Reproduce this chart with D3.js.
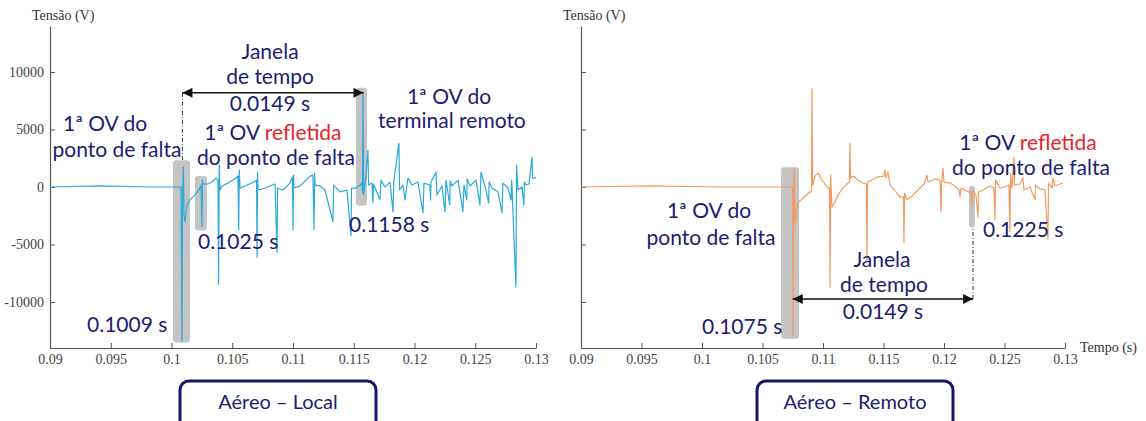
<!DOCTYPE html>
<html lang="pt">
<head>
<meta charset="utf-8" />
<title>Aéreo - Local / Remoto</title>
<script src="https://cdn.jsdelivr.net/npm/d3@7/dist/d3.min.js"></script>
<style>
  body { margin: 0; background: #fff; }
  svg { display: block; }
</style>
</head>
<body>
<script>
// tick values and labels (shared by both panels)
var xTicks = [0.09, 0.095, 0.1, 0.105, 0.11, 0.115, 0.12, 0.125, 0.13];
var xTickLabels = ["0.09", "0.095", "0.1", "0.105", "0.11", "0.115", "0.12", "0.125", "0.13"];
var yTicks = [-10000, -5000, 0, 5000, 10000];
var yTickLabels = ["-10000", "-5000", "0", "5000", "10000"];

// [tempo (s), tensao (V)]
var localSignal = [
  [0.09000, 0], [0.09412, 90], [0.09823, 0], [0.10078, 0], [0.10086, -13450], [0.10091, -260],
  [0.10097, 1720], [0.10103, -2410], [0.10111, -3020], [0.10128, -1550], [0.10152, -1120],
  [0.10193, -690], [0.10226, -260], [0.10243, 170], [0.10251, -3450], [0.10255, 600],
  [0.10259, 260], [0.10300, 260], [0.10333, 430], [0.10366, 780], [0.10383, 600],
  [0.10387, -8450], [0.10393, 1900], [0.10399, -260], [0.10416, 90], [0.10465, 340],
  [0.10531, 780], [0.10547, 950], [0.10553, -3710], [0.10558, 1470], [0.10564, -90],
  [0.10605, 90], [0.10679, 430], [0.10700, 600], [0.10704, -6120], [0.10708, 1290],
  [0.10712, -260], [0.10769, -90], [0.10852, 260], [0.10868, -5690], [0.10873, -90],
  [0.10918, -260], [0.10975, 340], [0.10996, 860], [0.11000, -3710], [0.11005, 1030],
  [0.11008, -90], [0.11058, 90], [0.11140, 950], [0.11164, 1030], [0.11173, -3710],
  [0.11178, 1210], [0.11181, 170], [0.11222, 90], [0.11263, -260], [0.11329, -3020],
  [0.11334, 170], [0.11387, -430], [0.11444, -260], [0.11477, -4220], [0.11482, -90],
  [0.11518, -90], [0.11551, 170], [0.11568, 340], [0.11572, -520], [0.11576, 8100],
  [0.11581, -690], [0.11601, 1030], [0.11617, 3190], [0.11622, 170], [0.11650, 340],
  [0.11658, -1380], [0.11662, 260],
  [0.11683, -260], [0.11716, -1120], [0.11724, 600], [0.11757, 0], [0.11798, 430],
  [0.11823, -2160], [0.11831, 600], [0.11872, 3790], [0.11877, -260], [0.11905, 170],
  [0.11922, -1120], [0.11946, 780], [0.11979, 170], [0.12029, 430], [0.12070, -2240],
  [0.12078, 340], [0.12127, 170], [0.12132, -1120], [0.12136, 430],
  [0.12177, 1290], [0.12185, -690], [0.12226, 90],
  [0.12251, -2160], [0.12259, 600], [0.12290, -1550], [0.12294, 520],
  [0.12308, 90], [0.12358, 600], [0.12399, -2160],
  [0.12407, 170], [0.12430, -1120], [0.12434, 690],
  [0.12457, 90], [0.12506, 600], [0.12539, -1550], [0.12547, 1290],
  [0.12588, -260], [0.12610, -1380], [0.12614, 430],
  [0.12638, -90], [0.12687, -430], [0.12720, -2240], [0.12728, 340],
  [0.12769, -90], [0.12795, -1120], [0.12799, 600],
  [0.12802, 170], [0.12835, -8710], [0.12840, 1900], [0.12852, -260],
  [0.12885, 0], [0.12900, -1550], [0.12904, 430],
  [0.12917, 170], [0.12942, 260], [0.12967, 2590], [0.12972, 780],
  [0.12992, 780], [0.13000, 860]
];

var remoteSignal = [
  [0.09000, 0], [0.09570, 90], [0.10149, 0], [0.10744, 0], [0.10748, 0], [0.10752, -12930],
  [0.10757, -260], [0.10762, 1640], [0.10769, -3280], [0.10785, -1980], [0.10793, -1380],
  [0.10835, -950], [0.10892, -430], [0.10905, -430], [0.10909, 8530], [0.10915, 170],
  [0.10934, 950], [0.10959, 1210], [0.10992, 600], [0.11041, -90], [0.11054, -90],
  [0.11058, -8710], [0.11063, 1030], [0.11074, -1720], [0.11091, -1470], [0.11124, -690],
  [0.11165, -90], [0.11207, 340], [0.11219, 430], [0.11223, 3790], [0.11228, 780],
  [0.11248, 950], [0.11289, 600], [0.11330, 340], [0.11359, 260], [0.11364, -6470],
  [0.11369, 430], [0.11405, 600], [0.11446, 860], [0.11504, 950], [0.11512, 1470],
  [0.11520, 780], [0.11537, 1290], [0.11554, 170], [0.11603, -430], [0.11636, -860],
  [0.11665, -860], [0.11669, -4830], [0.11674, -520], [0.11694, -1120], [0.11735, -780],
  [0.11785, -260], [0.11835, 260], [0.11859, 1030], [0.11868, 430], [0.11926, 690],
  [0.11967, 600], [0.11975, -2160], [0.11980, 340], [0.11992, 1640], [0.12000, 430],
  [0.12049, 340], [0.12091, 90], [0.12124, -260], [0.12132, -860], [0.12140, -90],
  [0.12173, -260], [0.12206, -430], [0.12227, -520], [0.12231, -1720], [0.12236, -260],
  [0.12264, -690], [0.12281, -2590], [0.12286, -430], [0.12322, -260], [0.12380, 90],
  [0.12413, -90], [0.12421, -2840], [0.12426, 600], [0.12463, -90], [0.12504, 0],
  [0.12537, 170], [0.12545, -3880], [0.12550, 1210], [0.12562, -90], [0.12578, 2590],
  [0.12583, 170], [0.12627, 260], [0.12652, 780], [0.12661, -260], [0.12710, 0],
  [0.12752, -1120], [0.12757, 170], [0.12793, -170], [0.12834, -260], [0.12859, -4570],
  [0.12864, 340], [0.12893, -90], [0.12901, 780], [0.12917, 90], [0.12959, 260],
  [0.12983, 340]
];

// highlighted windows [t0, t1, vTop, vBottom]
var localBoxes = [[0.10012, 0.10152, 2330, -13530], [0.10193, 0.10292, 950, -3790], [0.11518, 0.11609, 8620, -1640]];
var remoteBoxes = [[0.10653, 0.10802, 1720, -13190], [0.12206, 0.12256, 90, -3530]];

// time window arrows [t0, t1, v, tDashed, vDashedEnd]
var localWindow = [0.1009, 0.1158, 8190, 0.1009, 2330];
var remoteWindow = [0.1075, 0.1224, -9740, 0.1224, -3530];

// annotation text: [t, v, anchor, parts]
var localNotes = [
  [0.10811, 11120, "middle", [["Janela"]]],
  [0.10811, 8960, "middle", [["de tempo"]]],
  [0.10811, 6640, "middle", [["0.0149 s"]]],
  [0.09453, 4910, "middle", [["1ª OV do"]]],
  [0.09551, 2590, "middle", [["ponto de falta"]]],
  [0.10835, 4050, "middle", [["1ª OV "], ["refletida", "red"]]],
  [0.10860, 1900, "middle", [["do ponto de falta"]]],
  [0.12284, 7240, "middle", [["1ª OV do"]]],
  [0.12308, 5090, "middle", [["terminal remoto"]]],
  [0.10218, -5430, "start", [["0.1025 s"]]],
  [0.11461, -3880, "start", [["0.1158 s"]]],
  [0.09305, -12590, "start", [["0.1009 s"]]]
];
var remoteNotes = [
  [0.10058, -2670, "middle", [["1ª OV do"]]],
  [0.10074, -5000, "middle", [["ponto de falta"]]],
  [0.10000, -12760, "start", [["0.1075 s"]]],
  [0.11487, -6980, "middle", [["Janela"]]],
  [0.11504, -9140, "middle", [["de tempo"]]],
  [0.11496, -11460, "middle", [["0.0149 s"]]],
  [0.12694, 3190, "middle", [["1ª OV "], ["refletida", "red"]]],
  [0.12719, 1030, "middle", [["do ponto de falta"]]],
  [0.12322, -4310, "start", [["0.1225 s"]]]
];

var panels = [
  { title: "Aéreo – Local", data: localSignal, boxes: localBoxes, win: localWindow, notes: localNotes,
    color: "#2ca9d8", left: 50, right: 536, yLabels: true, labelX: 32, titleBox: [180, 196] },
  { title: "Aéreo – Remoto", data: remoteSignal, boxes: remoteBoxes, win: remoteWindow, notes: remoteNotes,
    color: "#f39a62", left: 581, right: 1065, yLabels: false, labelX: 563, titleBox: [757, 196] }
];

var W = 1146, H = 421, plotTop = 26, plotBottom = 348;
var navy = "#202070", red = "#e8242c", axisColor = "#555";

var svg = d3.select("body").append("svg")
  .attr("width", W)
  .attr("height", H);

var defs = svg.append("defs");
defs.append("marker")
  .attr("id", "arrow")
  .attr("viewBox", "0 0 10 10")
  .attr("refX", 10).attr("refY", 5)
  .attr("markerWidth", 15).attr("markerHeight", 10)
  .attr("markerUnits", "userSpaceOnUse")
  .attr("orient", "auto-start-reverse")
  .append("path")
  .attr("d", "M0,0 L10,5 L0,10 Z")
  .attr("fill", "#111");

panels.forEach(function (p) {
  var x = d3.scaleLinear().domain([0.09, 0.13]).range([p.left, p.right]);
  var y = d3.scaleLinear().domain([-14000, 14000]).range([plotBottom, plotTop]);
  var g = svg.append("g");

  // grey highlight windows
  g.selectAll("rect.hl")
    .data(p.boxes)
    .enter()
    .append("rect")
    .attr("class", "hl")
    .attr("x", function (d) { return x(d[0]); })
    .attr("y", function (d) { return y(d[2]); })
    .attr("width", function (d) { return x(d[1]) - x(d[0]); })
    .attr("height", function (d) { return y(d[3]) - y(d[2]); })
    .attr("rx", 3)
    .attr("fill", "#c4c4c4");

  // axes
  var xAxis = d3.axisBottom(x)
    .tickValues(xTicks)
    .tickFormat(function (d, i) { return xTickLabels[i]; })
    .tickSizeInner(-5).tickSizeOuter(0).tickPadding(6);
  var yAxis = d3.axisLeft(y)
    .tickValues(yTicks)
    .tickFormat(function (d, i) { return p.yLabels ? yTickLabels[i] : ""; })
    .tickSizeInner(-5).tickSizeOuter(0).tickPadding(6);

  var gx = g.append("g").attr("transform", "translate(0," + plotBottom + ")").call(xAxis);
  var gy = g.append("g").attr("transform", "translate(" + p.left + ",0)").call(yAxis);
  [gx, gy].forEach(function (a) {
    a.select(".domain").attr("stroke", axisColor).attr("stroke-width", 1.2);
    a.selectAll(".tick line").attr("stroke", axisColor);
    a.selectAll(".tick text")
      .attr("fill", "#444")
      .style("font-family", "'Liberation Serif', serif")
      .style("font-size", "14px");
  });

  g.append("text")
    .attr("x", p.labelX).attr("y", 20)
    .attr("fill", "#333")
    .style("font-family", "'Liberation Serif', serif")
    .style("font-size", "14px")
    .text("Tensão (V)");

  // signal
  var line = d3.line()
    .x(function (d) { return x(d[0]); })
    .y(function (d) { return y(d[1]); });
  g.append("path")
    .datum(p.data)
    .attr("d", line)
    .attr("fill", "none")
    .attr("stroke", p.color)
    .attr("stroke-width", 1.2)
    .attr("stroke-linejoin", "round");

  // time window arrow + dash-dot guide
  var w = p.win;
  g.append("line")
    .attr("x1", x(w[3])).attr("x2", x(w[3]))
    .attr("y1", y(w[2])).attr("y2", y(w[4]))
    .attr("stroke", "#333")
    .attr("stroke-width", 1)
    .attr("stroke-dasharray", "4,2,1,2");
  g.append("line")
    .attr("x1", x(w[0])).attr("x2", x(w[1]))
    .attr("y1", y(w[2])).attr("y2", y(w[2]))
    .attr("stroke", "#111")
    .attr("stroke-width", 1.6)
    .attr("marker-start", "url(#arrow)")
    .attr("marker-end", "url(#arrow)");

  // annotations
  var notes = g.selectAll("text.note")
    .data(p.notes)
    .enter()
    .append("text")
    .attr("class", "note")
    .attr("x", function (d) { return x(d[0]); })
    .attr("y", function (d) { return y(d[1]); })
    .attr("text-anchor", function (d) { return d[2]; })
    .style("font-family", "Lato, 'Open Sans', sans-serif")
    .style("font-size", "21px");
  notes.each(function (d) {
    var t = d3.select(this);
    d[3].forEach(function (part) {
      t.append("tspan")
        .attr("fill", part[1] === "red" ? red : navy)
        .text(part[0]);
    });
  });

  // caption box
  var cb = svg.append("g");
  cb.append("rect")
    .attr("x", p.titleBox[0]).attr("y", 381)
    .attr("width", p.titleBox[1]).attr("height", 50)
    .attr("rx", 9)
    .attr("fill", "#fff")
    .attr("stroke", "#14146a")
    .attr("stroke-width", 3);
  cb.append("text")
    .attr("x", p.titleBox[0] + p.titleBox[1] / 2).attr("y", 409)
    .attr("text-anchor", "middle")
    .attr("fill", navy)
    .style("font-family", "Lato, 'Open Sans', sans-serif")
    .style("font-size", "20px")
    .text(p.title);
});

svg.append("text")
  .attr("x", 1080).attr("y", 352)
  .attr("fill", "#333")
  .style("font-family", "'Liberation Serif', serif")
  .style("font-size", "14px")
  .text("Tempo (s)");
</script>
</body>
</html>
